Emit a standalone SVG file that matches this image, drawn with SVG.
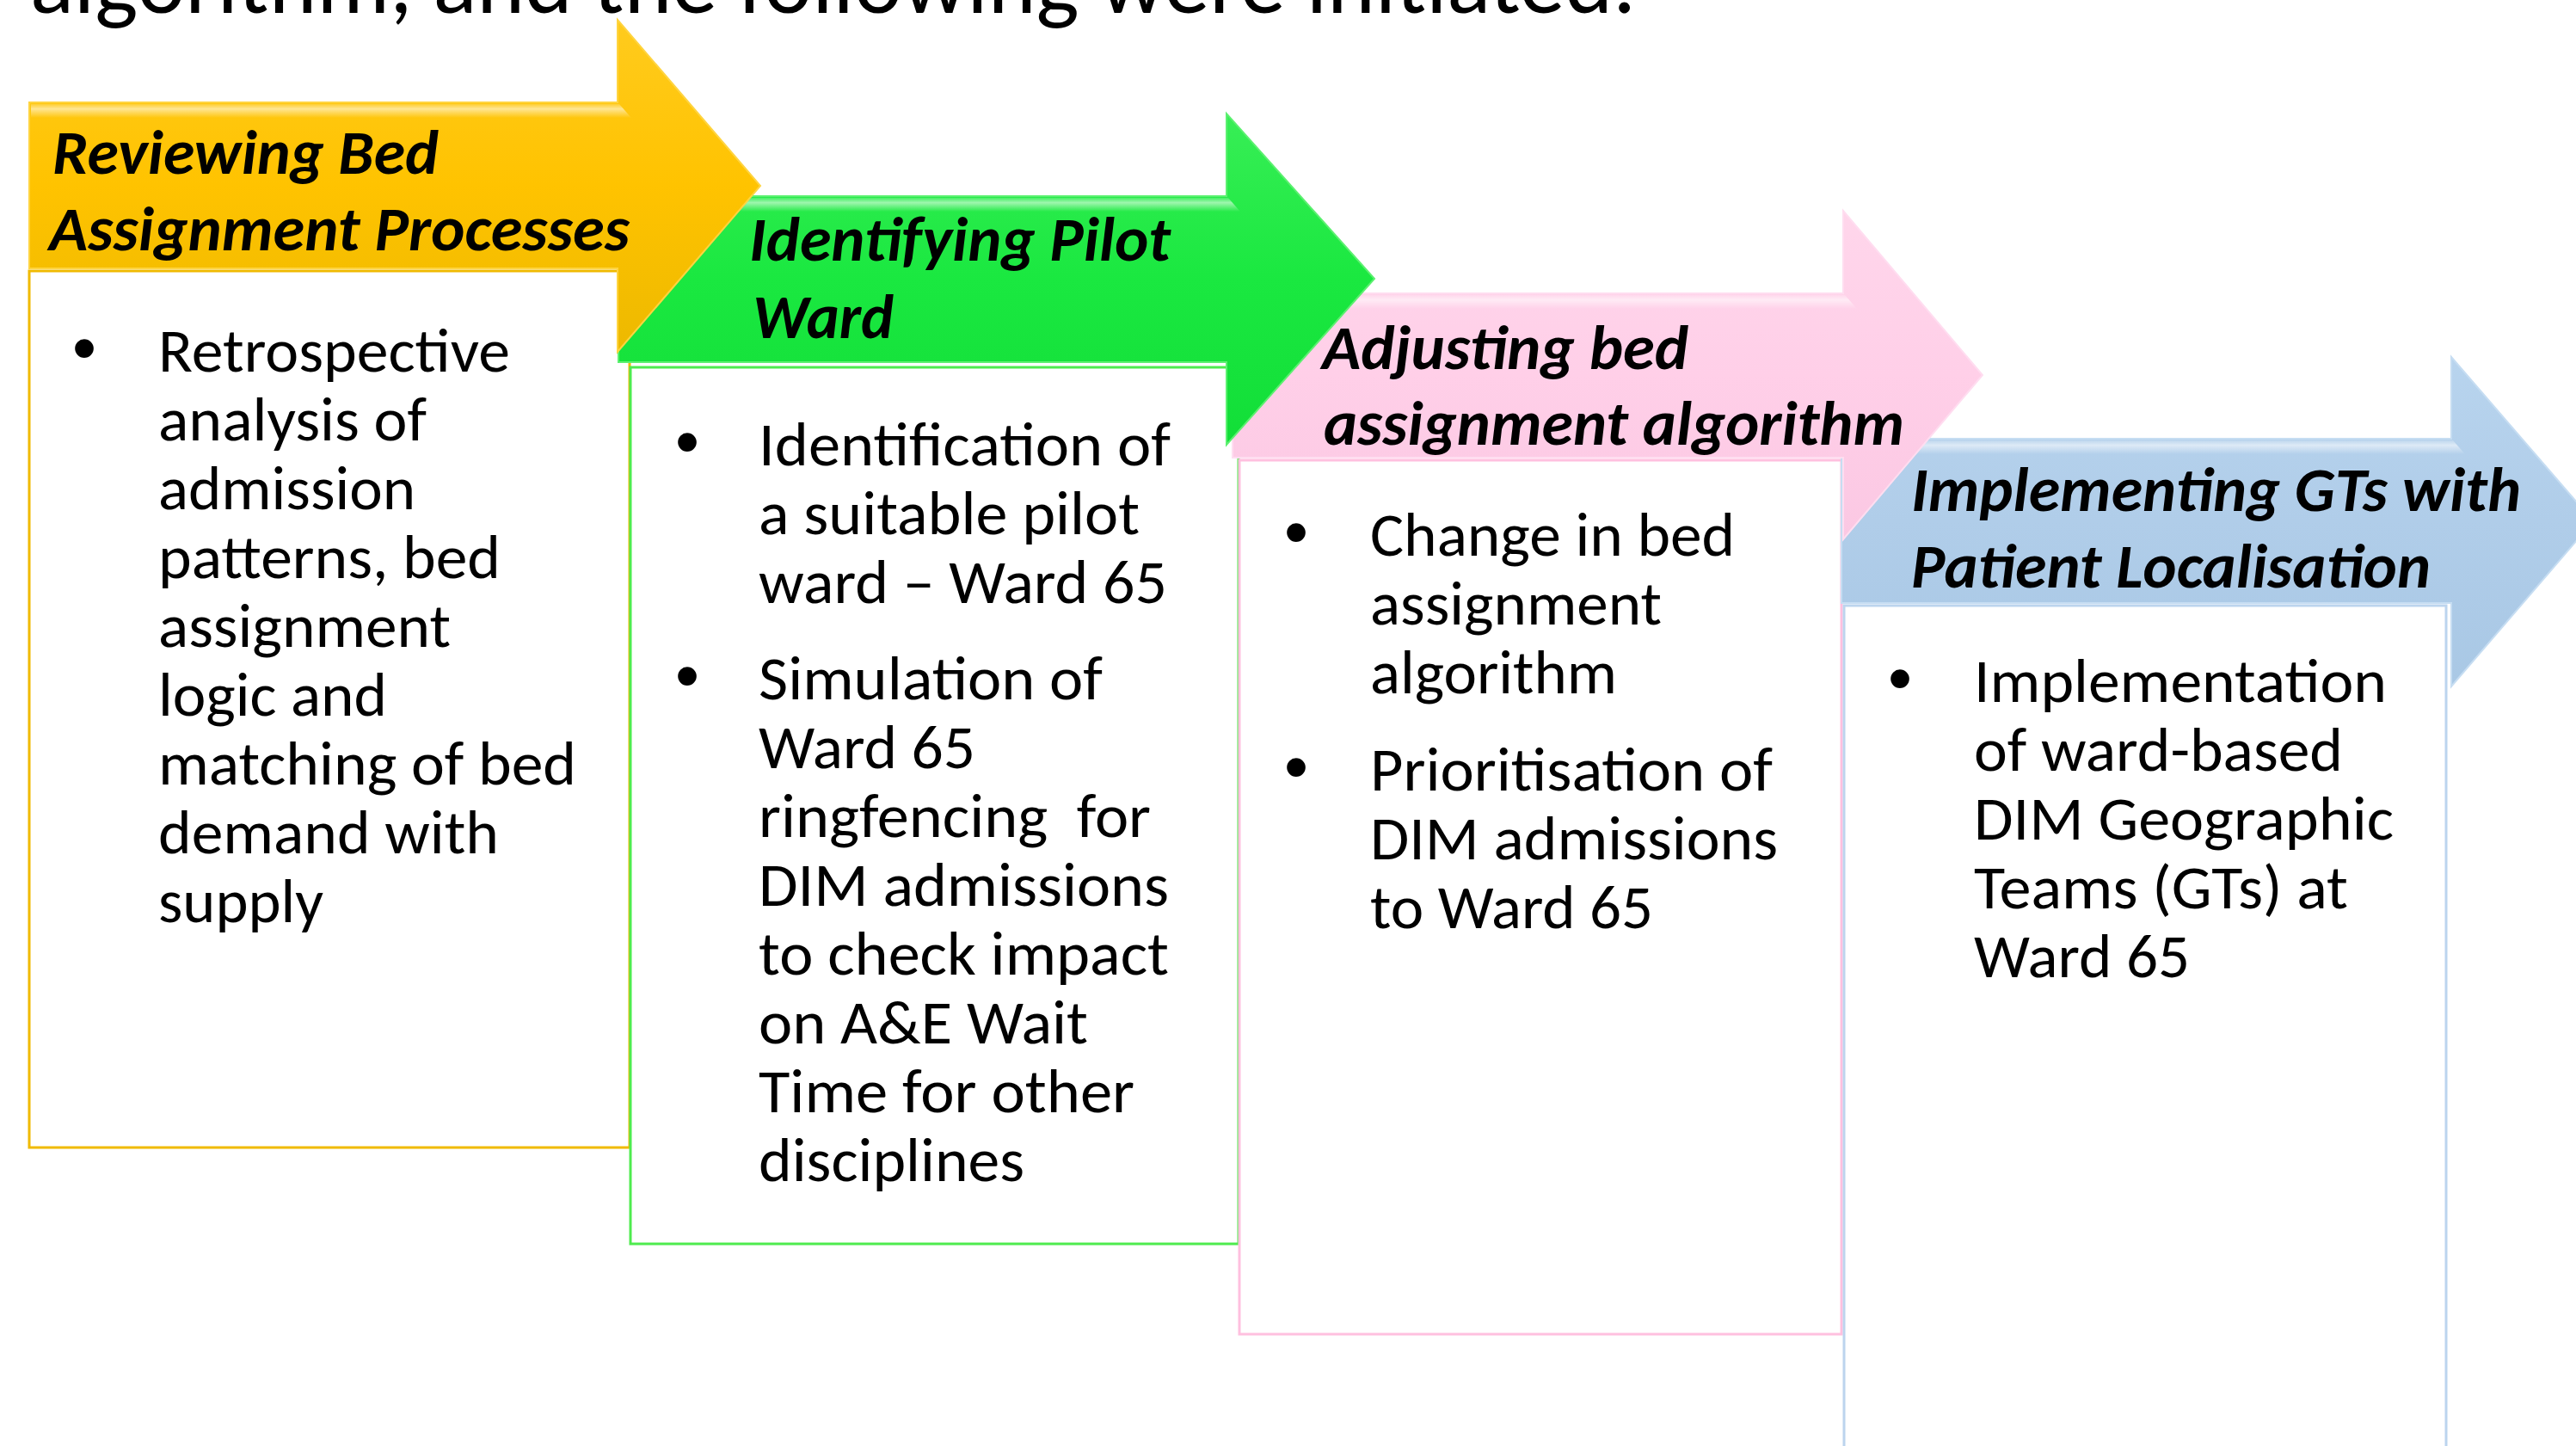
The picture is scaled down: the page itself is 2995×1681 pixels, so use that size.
<svg xmlns="http://www.w3.org/2000/svg" width="2995" height="1681" viewBox="0 0 2995 1681">
  <defs>
    <linearGradient id="gYellow" x1="0" y1="0" x2="0" y2="1">
      <stop offset="0" stop-color="#FFCB1E"/>
      <stop offset="0.5" stop-color="#FFC300"/>
      <stop offset="1" stop-color="#EDB900"/>
    </linearGradient>
    <linearGradient id="gGreen" x1="0" y1="0" x2="0" y2="1">
      <stop offset="0" stop-color="#38EE56"/>
      <stop offset="0.5" stop-color="#1AE840"/>
      <stop offset="1" stop-color="#12DE38"/>
    </linearGradient>
    <linearGradient id="gPink" x1="0" y1="0" x2="0" y2="1">
      <stop offset="0" stop-color="#FFD6EB"/>
      <stop offset="0.5" stop-color="#FFCFE8"/>
      <stop offset="1" stop-color="#FBC8E3"/>
    </linearGradient>
    <linearGradient id="gBlue" x1="0" y1="0" x2="0" y2="1">
      <stop offset="0" stop-color="#B8D4EE"/>
      <stop offset="0.5" stop-color="#B0CDE9"/>
      <stop offset="1" stop-color="#A9C8E5"/>
    </linearGradient>
    <!-- soft bevel sheen along the top edge of each arrow body -->
    <linearGradient id="sheen" x1="0" y1="0" x2="0" y2="1">
      <stop offset="0" stop-color="#FFFFFF" stop-opacity="0.15"/>
      <stop offset="0.35" stop-color="#FFFFFF" stop-opacity="0.55"/>
      <stop offset="1" stop-color="#FFFFFF" stop-opacity="0"/>
    </linearGradient>
    <style>
      .head { font-family: Carlito, "Liberation Sans", Arial, sans-serif; font-size: 72px; font-weight: bold; font-style: italic; fill: #000; }
      .body { font-family: Carlito, "Liberation Sans", Arial, sans-serif; font-size: 72px; fill: #000; }
      .bul { font-family: "Liberation Sans", Arial, sans-serif; font-size: 80px; fill: #000; text-anchor: middle; }
      .title { font-family: Carlito, "Liberation Sans", Arial, sans-serif; font-size: 106px; fill: #000; }
      .box { fill: #FFFFFF; stroke-width: 3; }
      .sheen { fill: url(#sheen); }
    </style>
  </defs>

  <rect width="2995" height="1681" fill="#FFFFFF"/>

  <!-- slide title, running off the top edge -->
  <text class="title" x="35" y="15" textLength="1867" lengthAdjust="spacingAndGlyphs">algorithm, and the following were initiated.</text>

  <!-- detail boxes (drawn beneath the arrows) -->
  <g id="step1-details">
    <rect class="box" x="34" y="315" width="698" height="1019" stroke="#F0BA00"/>
    <text class="bul" x="98" y="432">•</text>
    <text class="body" x="184" y="432" textLength="409" lengthAdjust="spacingAndGlyphs">Retrospective</text>
    <text class="body" x="184" y="512" textLength="312" lengthAdjust="spacingAndGlyphs">analysis of</text>
    <text class="body" x="184" y="592" textLength="299" lengthAdjust="spacingAndGlyphs">admission</text>
    <text class="body" x="184" y="672" textLength="398" lengthAdjust="spacingAndGlyphs">patterns, bed</text>
    <text class="body" x="184" y="752" textLength="340" lengthAdjust="spacingAndGlyphs">assignment</text>
    <text class="body" x="184" y="832" textLength="266" lengthAdjust="spacingAndGlyphs">logic and</text>
    <text class="body" x="184" y="912" textLength="486" lengthAdjust="spacingAndGlyphs">matching of bed</text>
    <text class="body" x="184" y="992" textLength="396" lengthAdjust="spacingAndGlyphs">demand with</text>
    <text class="body" x="184" y="1072" textLength="192" lengthAdjust="spacingAndGlyphs">supply</text>
  </g>

  <g id="step2-details">
    <rect class="box" x="733" y="427" width="707" height="1019" stroke="#4EEB4E"/>
    <text class="bul" x="799" y="541">•</text>
    <text class="body" x="882" y="541" textLength="479" lengthAdjust="spacingAndGlyphs">Identification of</text>
    <text class="body" x="882" y="621" textLength="443" lengthAdjust="spacingAndGlyphs">a suitable pilot</text>
    <text class="body" x="882" y="701" textLength="475" lengthAdjust="spacingAndGlyphs">ward – Ward 65</text>
    <text class="bul" x="799" y="813">•</text>
    <text class="body" x="882" y="813" textLength="400" lengthAdjust="spacingAndGlyphs">Simulation of</text>
    <text class="body" x="882" y="893" textLength="252" lengthAdjust="spacingAndGlyphs">Ward 65</text>
    <text class="body" x="882" y="973" textLength="456" lengthAdjust="spacingAndGlyphs" xml:space="preserve">ringfencing  for</text>
    <text class="body" x="882" y="1053" textLength="477" lengthAdjust="spacingAndGlyphs">DIM admissions</text>
    <text class="body" x="882" y="1133" textLength="477" lengthAdjust="spacingAndGlyphs">to check impact</text>
    <text class="body" x="882" y="1213" textLength="383" lengthAdjust="spacingAndGlyphs">on A&amp;E Wait</text>
    <text class="body" x="882" y="1293" textLength="437" lengthAdjust="spacingAndGlyphs">Time for other</text>
    <text class="body" x="882" y="1373" textLength="309" lengthAdjust="spacingAndGlyphs">disciplines</text>
  </g>

  <g id="step3-details">
    <rect class="box" x="1441" y="535" width="700" height="1016" stroke="#FFC0DF"/>
    <text class="bul" x="1507" y="646">•</text>
    <text class="body" x="1593" y="646" textLength="424" lengthAdjust="spacingAndGlyphs">Change in bed</text>
    <text class="body" x="1593" y="726" textLength="339" lengthAdjust="spacingAndGlyphs">assignment</text>
    <text class="body" x="1593" y="806" textLength="287" lengthAdjust="spacingAndGlyphs">algorithm</text>
    <text class="bul" x="1507" y="919">•</text>
    <text class="body" x="1593" y="919" textLength="468" lengthAdjust="spacingAndGlyphs">Prioritisation of</text>
    <text class="body" x="1593" y="999" textLength="474" lengthAdjust="spacingAndGlyphs">DIM admissions</text>
    <text class="body" x="1593" y="1079" textLength="329" lengthAdjust="spacingAndGlyphs">to Ward 65</text>
  </g>

  <g id="step4-details">
    <rect class="box" x="2144" y="704" width="700" height="1000" stroke="#BCD4EE"/>
    <text class="bul" x="2209" y="816">•</text>
    <text class="body" x="2295" y="816" textLength="480" lengthAdjust="spacingAndGlyphs">Implementation</text>
    <text class="body" x="2295" y="896" textLength="429" lengthAdjust="spacingAndGlyphs">of ward-based</text>
    <text class="body" x="2295" y="976" textLength="488" lengthAdjust="spacingAndGlyphs">DIM Geographic</text>
    <text class="body" x="2295" y="1056" textLength="435" lengthAdjust="spacingAndGlyphs">Teams (GTs) at</text>
    <text class="body" x="2295" y="1136" textLength="251" lengthAdjust="spacingAndGlyphs">Ward 65</text>
  </g>

  <!-- header arrows, later steps underneath earlier ones -->
  <g id="step4-header">
    <polygon points="2141,510 2850,510 2850,415 3015,606 2850,798 2850,701 2141,701" fill="url(#gBlue)" stroke="#C6DDF2" stroke-width="2"/>
    <polygon class="sheen" points="2143,512 2852,512 2866,528 2143,528"/>
    <text class="head" x="2222" y="594" textLength="709" lengthAdjust="spacingAndGlyphs">Implementing GTs with</text>
    <text class="head" x="2222" y="683" textLength="604" lengthAdjust="spacingAndGlyphs">Patient Localisation</text>
  </g>

  <g id="step3-header">
    <polygon points="1433,341 2143,341 2143,245 2305,436 2143,627 2143,532 1433,532" fill="url(#gPink)" stroke="#FFDDF0" stroke-width="2"/>
    <polygon class="sheen" points="1435,343 2145,343 2159,359 1435,359"/>
    <text class="head" x="1537" y="429" textLength="426" lengthAdjust="spacingAndGlyphs">Adjusting bed</text>
    <text class="head" x="1539" y="517" textLength="675" lengthAdjust="spacingAndGlyphs">assignment algorithm</text>
  </g>

  <g id="step2-header">
    <polygon points="719,228 1426,228 1426,132 1598,324 1426,517 1426,421 719,421" fill="url(#gGreen)" stroke="#5CF070" stroke-width="2"/>
    <polygon class="sheen" points="721,230 1428,230 1442,246 721,246"/>
    <text class="head" x="871" y="303" textLength="490" lengthAdjust="spacingAndGlyphs">Identifying Pilot</text>
    <text class="head" x="875" y="393" textLength="164" lengthAdjust="spacingAndGlyphs">Ward</text>
  </g>

  <g id="step1-header">
    <polygon points="34,119 718,119 718,23 884,216 718,409 718,312 34,312" fill="url(#gYellow)" stroke="#FFD440" stroke-width="2"/>
    <polygon class="sheen" points="36,121 720,121 734,137 36,137"/>
    <text class="head" x="61" y="202" textLength="449" lengthAdjust="spacingAndGlyphs">Reviewing Bed</text>
    <text class="head" x="57" y="291" textLength="675" lengthAdjust="spacingAndGlyphs">Assignment Processes</text>
  </g>
</svg>
